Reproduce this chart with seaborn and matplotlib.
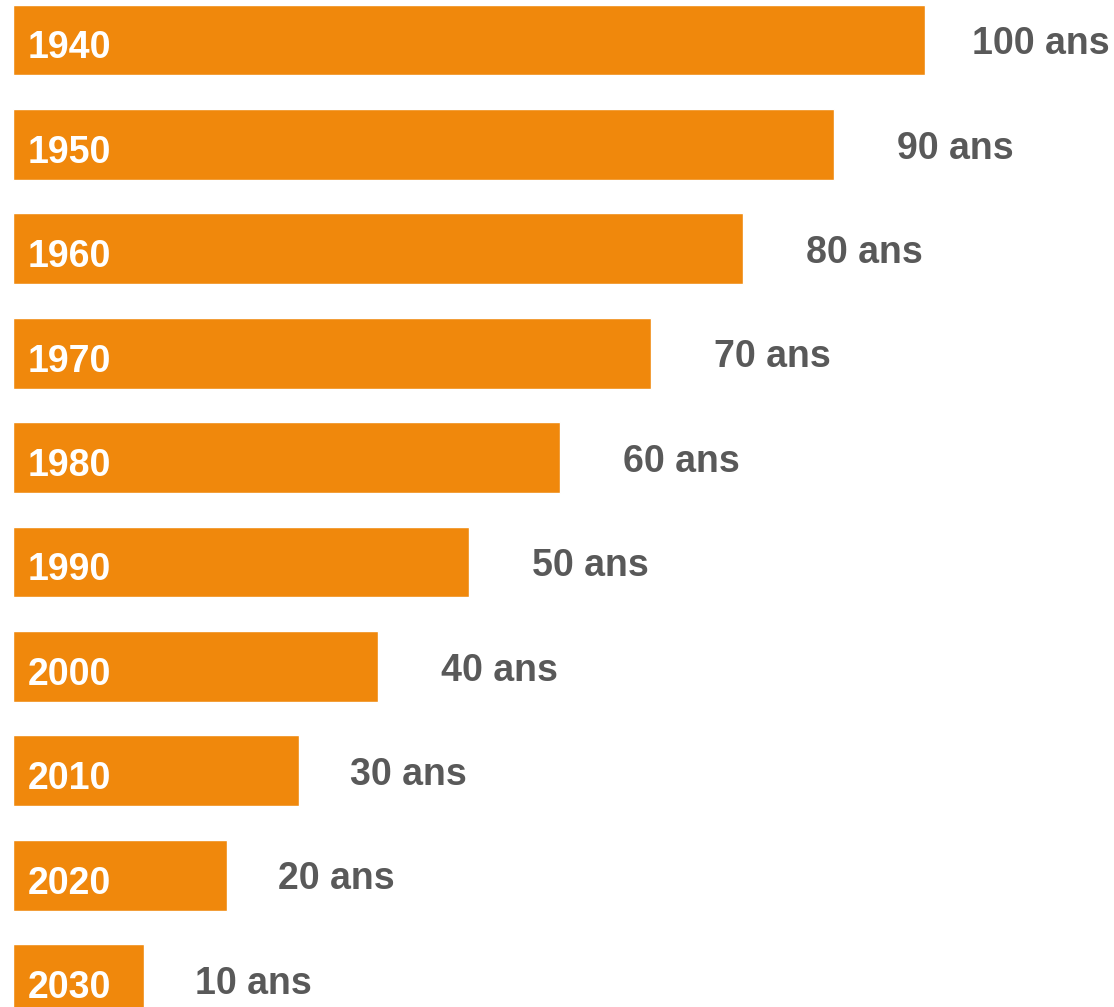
import pandas as pd
import matplotlib.pyplot as plt
import seaborn as sns

# Data
years = ["1940", "1950", "1960", "1970", "1980", "1990", "2000", "2010", "2020", "2030"]
ages = [100, 90, 80, 70, 60, 50, 40, 30, 20, 10]
bar_len = [100, 90, 80, 70, 60, 50, 40, 31.4, 23.5, 14.4]

df = pd.DataFrame({"year": years, "age": ages, "length": bar_len})

sns.set_theme(style="white")
plt.rcParams['font.family'] = ['Liberation Sans', 'DejaVu Sans']

fig = plt.figure(figsize=(11.14, 10.07), dpi=100)
ax = fig.add_axes([0, 0, 1, 1])

sns.barplot(data=df, x="length", y="year", orient="h", color="#F0880C",
            saturation=1, width=0.68, ax=ax)

# pixel mapping: x=0 -> 13px, x=100 -> 925px
ax.set_xlim(-13 / 9.12, (1114 - 13) / 9.12)
ax.set_ylim((1007 - 40) / 104.4, -40 / 104.4)

for i, row in df.iterrows():
    ax.text(1.64, i + 0.08, row["year"], color="white", fontsize=27,
            fontweight="bold", va="center", ha="left")
    pos = max(row["age"] + 6.9, row["length"] + 5.6)
    pos = min(pos, (972 - 13) / 9.12)
    ax.text(pos, i + 0.04, f"{row['age']} ans", color="#595959", fontsize=27,
            fontweight="bold", va="center", ha="left")

ax.axis("off")
fig.savefig("out.png", dpi=100)
